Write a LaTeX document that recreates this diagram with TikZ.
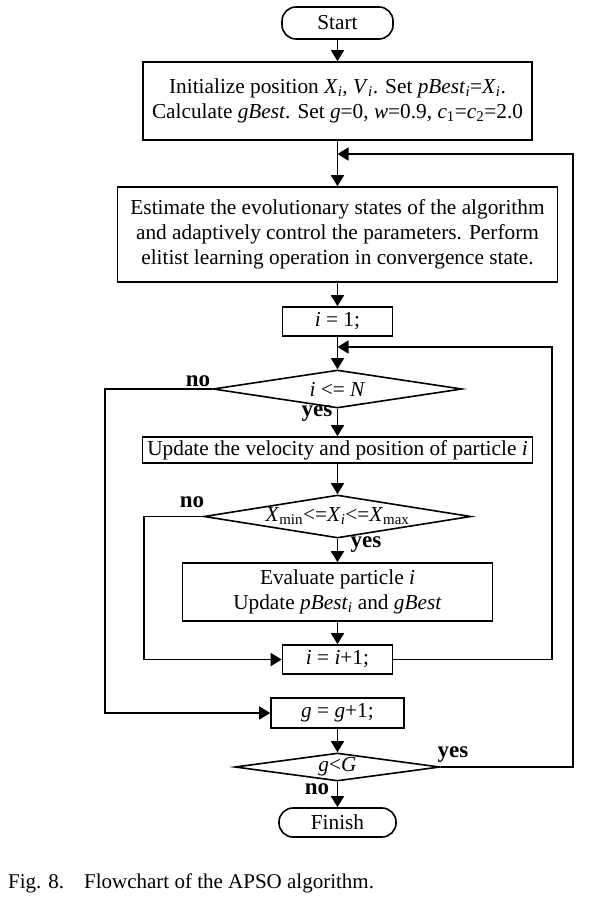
\documentclass[tikz,border=0pt]{standalone}
\usepackage{fontspec}
\setmainfont{Liberation Serif}
\usetikzlibrary{arrows.meta,shapes.geometric}
\newcommand{\itsub}[2]{\textit{#1}\textsubscript{#2}}

\begin{document}
\begin{tikzpicture}[
  x=1pt, y=-1pt,
  font=\fontsize{21.3}{25}\selectfont,
  box/.style={rectangle, draw=black, line width=1.6pt, inner sep=0pt, align=center},
  term/.style={rectangle, rounded corners=14pt, draw=black, line width=1.6pt, inner sep=0pt},
  cond/.style={diamond, draw=black, line width=1.6pt, inner sep=0pt, aspect=6},
  lab/.style={font=\fontsize{23}{23}\selectfont\bfseries, inner sep=0pt},
  >={Triangle[length=11pt,width=13pt]}, arr/.style={->, line width=1.6pt}
]
\useasboundingbox (0,0) rectangle (589,901);

\node[term, minimum width=111pt, minimum height=32pt] (start) at (337.5,23) {Start};
\node[box, minimum width=389pt, minimum height=78pt] (init) at (337.5,101)
  {Initialize position \itsub{X}{\textit{i}}, \itsub{V}{\textit{i}}. Set \itsub{pBest}{\textit{i}}=\itsub{X}{\textit{i}}.\\
   Calculate \textit{gBest}. Set \textit{g}=0, \textit{w}=0.9, \itsub{c}{1}=\itsub{c}{2}=2.0};
\node[box, minimum width=440pt, minimum height=95pt] (est) at (337.5,234.5)
  {Estimate the evolutionary states of the algorithm\\
   and adaptively control the parameters. Perform\\
   elitist learning operation in convergence state.};
\node[box, minimum width=110pt, minimum height=29pt] (ione) at (337.5,321.5) {\textit{i} = 1;};
\node[cond, minimum width=249pt, minimum height=38pt] (cond1) at (337.5,389) {\textit{i} <= \textit{N}};
\node[box, minimum width=390pt, minimum height=26pt] (upd) at (337.5,450)
  {Update the velocity and position of particle \textit{i}};
\node[cond, minimum width=267pt, minimum height=43pt] (cond2) at (337.5,516.5)
  {\itsub{X}{min}<=\itsub{X}{\textit{i}}<=\itsub{X}{max}};
\node[box, minimum width=310pt, minimum height=58pt] (eval) at (337.5,592)
  {Evaluate particle \textit{i}\\ Update \itsub{pBest}{\textit{i}} and \textit{gBest}};
\node[box, minimum width=110pt, minimum height=29pt] (inc) at (337.5,659.5) {\textit{i} = \textit{i}+1;};
\node[box, minimum width=133pt, minimum height=30pt] (gnext) at (337.5,713) {\textit{g} = \textit{g}+1;};
\node[cond, minimum width=205pt, minimum height=28pt, aspect=7] (cond3) at (337.5,767) {\textit{g}<\textit{G}};
\node[term, minimum width=117pt, minimum height=29pt] (finish) at (337.5,822.5) {Finish};

\coordinate (j1) at (337.5,154);
\coordinate (j2) at (337.5,347);

\node[lab] (no1) at (198,381) {no};
\node[lab] (yes1) at (317,414) {yes};
\node[lab] (no2) at (192,502) {no};
\node[lab] (yes2) at (366,545) {yes};
\node[lab] (yes3) at (453,755) {yes};
\node[lab] (no3) at (317,789) {no};

\node[anchor=west, inner sep=0pt, font=\fontsize{21}{25}\selectfont] (cap) at (8,883)
  {Fig. 8.\hspace{0.95em}Flowchart of the APSO algorithm.};

\draw[arr] (start) -- (init);
\draw[arr] (init) -- (est);
\draw[arr] (est) -- (ione);
\draw[arr] (ione) -- (cond1);
\draw[arr] (cond1) -- (upd);
\draw[arr] (upd) -- (cond2);
\draw[arr] (cond2) -- (eval);
\draw[arr] (eval) -- (inc);
\draw[arr] (gnext) -- (cond3);
\draw[arr] (cond3) -- (finish);
\draw[arr] (cond2.west) -- (144,516.5) |- (inc.west);
\draw[arr] (cond1.west) -- (105,389) |- (gnext.west);
\draw[arr] (inc.east) -- (552,659.5) |- (j2);
\draw[arr] (cond3.east) -- (573,767) |- (j1);
\end{tikzpicture}
\end{document}
